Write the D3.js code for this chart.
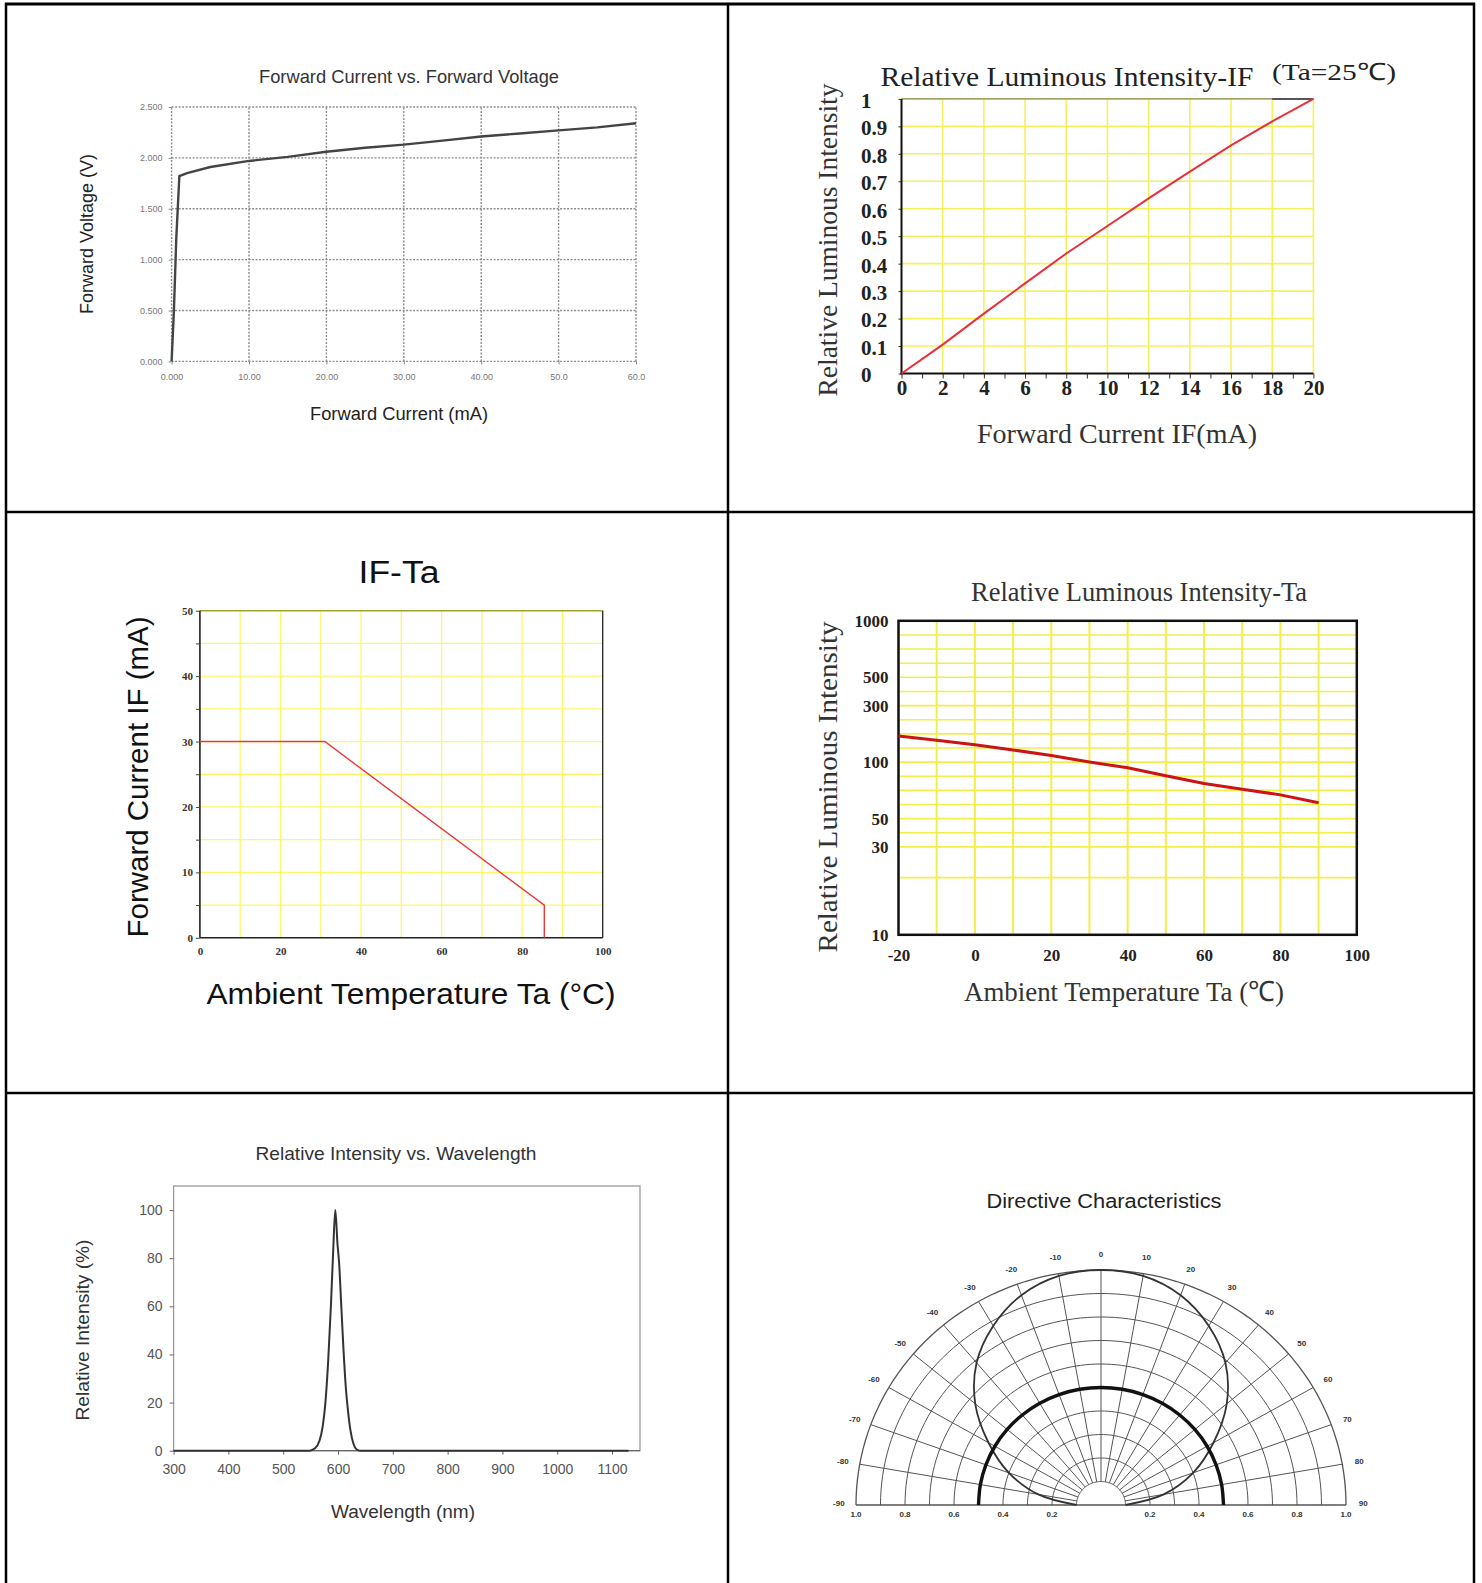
<!DOCTYPE html>
<html>
<head>
<meta charset="utf-8">
<script src="https://cdn.jsdelivr.net/npm/d3@7"></script>
<style>
  body { margin: 0; background: #fff; }
  svg { display: block; }
</style>
</head>
<body>
<svg id="sheet" width="1482" height="1583"></svg>
<script>
// Forward current vs forward voltage
const ivCurrent = [0, 0.3, 0.6, 1.0, 2, 5, 10, 15, 20, 25, 30, 35, 40, 45, 50, 55, 60];
const ivVoltage = [0, 0.5, 1.2, 1.82, 1.85, 1.91, 1.97, 2.01, 2.06, 2.1, 2.13, 2.17, 2.21, 2.24, 2.27, 2.3, 2.34];
const ivXVals = [0, 10, 20, 30, 40, 50, 60];
const ivXLabels = ["0.000", "10.00", "20.00", "30.00", "40.00", "50.0", "60.0"];
const ivYVals = [0, 0.5, 1, 1.5, 2, 2.5];
const ivYLabels = ["0.000", "0.500", "1.000", "1.500", "2.000", "2.500"];

// Relative luminous intensity vs IF
const lumCurrent = [0, 2, 4, 6, 8, 10, 12, 14, 16, 18, 20];
const lumRelative = [0, 0.105, 0.218, 0.328, 0.437, 0.537, 0.638, 0.735, 0.831, 0.918, 1.0];
const lumXVals = [0, 2, 4, 6, 8, 10, 12, 14, 16, 18, 20];
const lumYVals = [0, 0.1, 0.2, 0.3, 0.4, 0.5, 0.6, 0.7, 0.8, 0.9, 1];
const lumYLabels = ["0", "0.1", "0.2", "0.3", "0.4", "0.5", "0.6", "0.7", "0.8", "0.9", "1"];

// IF derating vs Ta
const derateTemp = [0, 31, 85.5, 85.5];
const derateCurrent = [30, 30, 5, 0];
const derateXVals = [0, 20, 40, 60, 80, 100];
const derateYVals = [0, 10, 20, 30, 40, 50];

// Relative luminous intensity vs Ta
const taTemp = [-20, -10, 0, 10, 20, 30, 40, 50, 60, 70, 80, 90];
const taRelative = [192, 177, 161, 143, 123, 100, 95, 88, 81, 76, 71, 64];
const taXVals = [-20, 0, 20, 40, 60, 80, 100];
const taYVals = [10, 30, 50, 100, 300, 500, 1000];
const taGrid = [1000, 875, 750, 625, 500, 400, 300, 250, 200, 150, 100, 87.5, 75, 62.5, 50, 40, 30, 23];

// Spectrum
const specWave = [300, 548, 558, 566, 572, 577, 582, 587, 591, 595, 599, 602, 606, 610, 614, 618, 623, 628, 634, 640, 1130];
const specRelative = [0, 0, 1, 4, 10, 20, 37, 60, 82, 100, 86, 78, 60, 42, 27, 17, 8, 3, 0.5, 0, 0];
const specXVals = [300, 400, 500, 600, 700, 800, 900, 1000, 1100];
const specYVals = [0, 20, 40, 60, 80, 100];

// Directive characteristics
const dirAngle = [-90, -80, -70, -60, -50, -40, -30, -20, -10, 0, 10, 20, 30, 40, 50, 60, 70, 80, 90];
const dirPattern = [0.1, 0.26, 0.4, 0.53, 0.67, 0.79, 0.88, 0.95, 0.99, 1.0, 0.99, 0.95, 0.88, 0.79, 0.67, 0.53, 0.4, 0.26, 0.1];
const dirHalf = [0.5, 0.5, 0.5, 0.5, 0.5, 0.5, 0.5, 0.5, 0.5, 0.5, 0.5, 0.5, 0.5, 0.5, 0.5, 0.5, 0.5, 0.5, 0.5];
const dirRadiusVals = [1.0, 0.8, 0.6, 0.4, 0.2];
const dirRadiusLabels = ["1.0", "0.8", "0.6", "0.4", "0.2"];

const NARROW = "'Liberation Sans Narrow','Arial Narrow','Liberation Sans',Arial,sans-serif";
const SERIF = "'Liberation Serif','Times New Roman',serif";
const SANS = "'Liberation Sans',Arial,sans-serif";

const svg = d3.select("#sheet");

// text helper, squeezes to the measured width when asked
function label(parent, str, x, y, o) {
    var t = parent.append("text")
        .attr("x", x)
        .attr("y", y)
        .attr("text-anchor", o.anchor || "middle")
        .style("font-family", o.family)
        .style("font-size", o.size + "px")
        .style("fill", o.fill || "#222")
        .text(str);
    if (o.weight) t.style("font-weight", o.weight);
    if (o.length) t.attr("textLength", o.length).attr("lengthAdjust", "spacingAndGlyphs");
    if (o.rotate) t.attr("transform", "rotate(" + o.rotate + "," + x + "," + y + ")");
    return t;
}

function styleAxis(a, font, size, fill, weight, tickColor) {
    a.select(".domain").remove();
    a.selectAll("line").attr("stroke", tickColor);
    a.selectAll("text")
        .style("font-family", font)
        .style("font-size", size + "px")
        .style("font-weight", weight)
        .attr("fill", fill);
}

// ---- table frame
var frame = svg.append("g").attr("class", "table-frame").attr("stroke", "#000");
frame.append("line").attr("x1", 5).attr("x2", 1475).attr("y1", 4).attr("y2", 4).attr("stroke-width", 3);
[512, 1093].forEach(function (yy) {
    frame.append("line").attr("x1", 5).attr("x2", 1475).attr("y1", yy).attr("y2", yy).attr("stroke-width", 2.5);
});
[6, 728, 1474].forEach(function (xx) {
    frame.append("line").attr("x1", xx).attr("x2", xx).attr("y1", 3).attr("y2", 1583).attr("stroke-width", 2.5);
});

// ---- Forward Current vs. Forward Voltage
(function () {
    var g = svg.append("g").attr("class", "iv-chart");
    var x = d3.scaleLinear().domain([0, 60]).range([171.6, 636]);
    var y = d3.scaleLinear().domain([0, 2.5]).range([361.4, 107]);

    var grid = g.append("g").attr("stroke", "#8c8c8c").attr("stroke-width", 1.4).attr("stroke-dasharray", "2,1.5");
    grid.selectAll("line.v").data(ivXVals).join("line").attr("class", "v")
        .attr("x1", d => x(d)).attr("x2", d => x(d)).attr("y1", y(0)).attr("y2", y(2.5));
    grid.selectAll("line.h").data(ivYVals).join("line").attr("class", "h")
        .attr("x1", x(0)).attr("x2", x(60)).attr("y1", d => y(d)).attr("y2", d => y(d));

    g.append("g").attr("transform", "translate(0," + y(0) + ")")
        .call(d3.axisBottom(x).tickValues(ivXVals).tickFormat((d, i) => ivXLabels[i]).tickSize(3).tickPadding(9))
        .call(a => styleAxis(a, NARROW, 9, "#777", "normal", "#888"));
    g.append("g").attr("transform", "translate(" + x(0) + ",0)")
        .call(d3.axisLeft(y).tickValues(ivYVals).tickFormat((d, i) => ivYLabels[i]).tickSize(3).tickPadding(6))
        .call(a => styleAxis(a, NARROW, 9, "#777", "normal", "#888"));

    g.append("path")
        .datum(d3.zip(ivCurrent, ivVoltage))
        .attr("fill", "none")
        .attr("stroke", "#444")
        .attr("stroke-width", 2.4)
        .attr("d", d3.line().x(d => x(d[0])).y(d => y(d[1])));

    label(g, "Forward Current vs. Forward Voltage", 409, 83, {family: NARROW, size: 19, length: 300, fill: "#333"});
    label(g, "Forward Voltage (V)", 93, 234, {family: NARROW, size: 18, length: 160, rotate: -90, fill: "#222"});
    label(g, "Forward Current (mA)", 399, 420, {family: NARROW, size: 18, length: 178, fill: "#222"});
})();

// ---- Relative Luminous Intensity-IF
(function () {
    var g = svg.append("g").attr("class", "lum-if-chart");
    var x = d3.scaleLinear().domain([0, 20]).range([901.5, 1313.4]);
    var y = d3.scaleLinear().domain([0, 1]).range([373.5, 98.9]);

    var grid = g.append("g").attr("stroke", "#f4f25c").attr("stroke-width", 1.6);
    grid.selectAll("line.v").data(lumXVals.slice(1)).join("line").attr("class", "v")
        .attr("x1", d => x(d)).attr("x2", d => x(d)).attr("y1", y(0)).attr("y2", y(1));
    grid.selectAll("line.h").data(lumYVals.slice(1)).join("line").attr("class", "h")
        .attr("x1", x(0)).attr("x2", x(20)).attr("y1", d => y(d)).attr("y2", d => y(d));

    g.append("line").attr("x1", x(0)).attr("x2", x(20)).attr("y1", y(1)).attr("y2", y(1))
        .attr("stroke", "#8a8a6a").attr("stroke-width", 1.2);
    g.append("line").attr("x1", x(18)).attr("x2", x(20)).attr("y1", y(1)).attr("y2", y(1))
        .attr("stroke", "#555").attr("stroke-width", 2);

    g.append("g").attr("transform", "translate(0," + y(0) + ")")
        .call(d3.axisBottom(x).tickValues(d3.range(0, 21, 1)).tickFormat(d => lumXVals.includes(d) ? d : "").tickSize(5).tickPadding(2))
        .call(a => styleAxis(a, SERIF, 21, "#222", "bold", "#333"));
    // labels in the sheet are left aligned next to the axis
    g.append("g").attr("transform", "translate(" + x(0) + ",0)")
        .call(d3.axisLeft(y).tickValues(lumYVals).tickFormat((d, i) => lumYLabels[i]).tickSize(3).tickPadding(10))
        .call(a => styleAxis(a, SERIF, 21, "#222", "bold", "#333"))
        .call(a => a.selectAll("text").attr("text-anchor", "start").attr("x", 861 - x(0)).attr("dy", "0.4em"));

    g.append("line").attr("x1", x(0)).attr("x2", x(0)).attr("y1", y(0)).attr("y2", y(1)).attr("stroke", "#111").attr("stroke-width", 2);
    g.append("line").attr("x1", x(0) - 1).attr("x2", x(20)).attr("y1", y(0)).attr("y2", y(0)).attr("stroke", "#111").attr("stroke-width", 2);

    g.append("path")
        .datum(d3.zip(lumCurrent, lumRelative))
        .attr("fill", "none")
        .attr("stroke", "#e8303a")
        .attr("stroke-width", 2)
        .attr("d", d3.line().x(d => x(d[0])).y(d => y(d[1])));

    label(g, "Relative Luminous Intensity-IF", 1067, 86, {family: SERIF, size: 27, length: 373, fill: "#222"});
    label(g, "(Ta=25\u2103)", 1334, 80, {family: SERIF, size: 24, length: 124, fill: "#222"});
    label(g, "Relative Luminous Intensity", 837, 240, {family: SERIF, size: 28, length: 313, rotate: -90, fill: "#333"});
    label(g, "Forward Current IF(mA)", 1117, 443, {family: SERIF, size: 28, length: 280, fill: "#333"});
})();

// ---- IF-Ta
(function () {
    var g = svg.append("g").attr("class", "if-ta-chart");
    var x = d3.scaleLinear().domain([0, 100]).range([199.9, 602.7]);
    var y = d3.scaleLinear().domain([0, 50]).range([937.8, 610.7]);

    var grid = g.append("g").attr("stroke", "#fbf96a").attr("stroke-width", 1.3);
    grid.selectAll("line.v").data(d3.range(10, 100, 10)).join("line").attr("class", "v")
        .attr("x1", d => x(d)).attr("x2", d => x(d)).attr("y1", y(0)).attr("y2", y(50));
    grid.selectAll("line.h").data(d3.range(5, 50, 5)).join("line").attr("class", "h")
        .attr("x1", x(0)).attr("x2", x(100)).attr("y1", d => y(d)).attr("y2", d => y(d));

    g.append("line").attr("x1", x(0)).attr("x2", x(100)).attr("y1", y(50)).attr("y2", y(50)).attr("stroke", "#a3a22e").attr("stroke-width", 1.6);
    g.append("line").attr("x1", x(100)).attr("x2", x(100)).attr("y1", y(50)).attr("y2", y(0)).attr("stroke", "#222").attr("stroke-width", 1.3);
    g.append("line").attr("x1", x(0)).attr("x2", x(0)).attr("y1", y(50)).attr("y2", y(0)).attr("stroke", "#222").attr("stroke-width", 1.6);
    g.append("line").attr("x1", x(0)).attr("x2", x(100)).attr("y1", y(0)).attr("y2", y(0)).attr("stroke", "#222").attr("stroke-width", 1.6);

    g.append("g").attr("transform", "translate(" + x(0) + ",0)")
        .call(d3.axisLeft(y).tickValues(d3.range(0, 51, 5)).tickFormat(d => derateYVals.includes(d) ? d : "").tickSize(4).tickPadding(3))
        .call(a => styleAxis(a, SERIF, 11, "#333", "bold", "#444"));
    g.append("g").attr("transform", "translate(0," + y(0) + ")")
        .call(d3.axisBottom(x).tickValues(derateXVals).tickSize(0).tickPadding(9))
        .call(a => styleAxis(a, SERIF, 11, "#333", "bold", "#444"));

    g.append("path")
        .datum(d3.zip(derateTemp, derateCurrent))
        .attr("fill", "none")
        .attr("stroke", "#e83a3a")
        .attr("stroke-width", 1.4)
        .attr("d", d3.line().x(d => x(d[0])).y(d => y(d[1])));

    label(g, "IF-Ta", 399, 583, {family: SANS, size: 31, length: 81, fill: "#111"});
    label(g, "Forward Current IF (mA)", 148, 777, {family: SANS, size: 30, length: 321, rotate: -90, fill: "#111"});
    label(g, "Ambient Temperature Ta (\u00b0C)", 411, 1004, {family: SANS, size: 29, length: 409, fill: "#111"});
})();

// ---- Relative Luminous Intensity-Ta
(function () {
    var g = svg.append("g").attr("class", "lum-ta-chart");
    var x = d3.scaleLinear().domain([-20, 100]).range([898.5, 1356.8]);
    // the printed axis is not a true log scale, labels are placed by hand
    var top = 620.8, h = 314;
    var y = d3.scaleLinear().domain(taYVals)
        .range([1, 0.72, 0.63, 0.45, 0.27, 0.18, 0].map(f => top + f * h));

    var grid = g.append("g").attr("stroke", "#f2ef4a");
    grid.selectAll("line.h").data(taGrid).join("line").attr("class", "h")
        .attr("stroke-width", 1.6)
        .attr("x1", x(-20)).attr("x2", x(100)).attr("y1", d => y(d)).attr("y2", d => y(d));
    grid.selectAll("line.v").data(d3.range(-10, 91, 10)).join("line").attr("class", "v")
        .attr("stroke-width", 2)
        .attr("x1", d => x(d)).attr("x2", d => x(d)).attr("y1", y(10)).attr("y2", y(1000));

    g.append("rect")
        .attr("x", x(-20)).attr("y", y(1000))
        .attr("width", x(100) - x(-20)).attr("height", y(10) - y(1000))
        .attr("fill", "none").attr("stroke", "#111").attr("stroke-width", 2.5);

    g.append("g").attr("transform", "translate(" + x(-20) + ",0)")
        .call(d3.axisLeft(y).tickValues(taYVals).tickFormat(d => String(d)).tickSize(0).tickPadding(10))
        .call(a => styleAxis(a, SERIF, 17, "#222", "bold", "#333"));
    g.append("g").attr("transform", "translate(0," + y(10) + ")")
        .call(d3.axisBottom(x).tickValues(taXVals).tickFormat(d => String(d)).tickSize(0).tickPadding(14))
        .call(a => styleAxis(a, SERIF, 17, "#222", "bold", "#333"));

    g.append("path")
        .datum(d3.zip(taTemp, taRelative))
        .attr("fill", "none")
        .attr("stroke", "#cc1414")
        .attr("stroke-width", 3)
        .attr("d", d3.line().x(d => x(d[0])).y(d => y(d[1])));

    label(g, "Relative Luminous Intensity-Ta", 1139, 601, {family: SERIF, size: 28, length: 336, fill: "#333"});
    label(g, "Relative Luminous Intensity", 837, 787, {family: SERIF, size: 28, length: 331, rotate: -90, fill: "#333"});
    label(g, "Ambient Temperature Ta (\u2103)", 1124, 1001, {family: SERIF, size: 28, length: 320, fill: "#333"});
})();

// ---- Relative Intensity vs. Wavelength
(function () {
    var g = svg.append("g").attr("class", "spectrum-chart");
    var x = d3.scaleLinear().domain([300, 1151]).range([173.6, 640]);
    var y = d3.scaleLinear().domain([0, 110]).range([1450.7, 1186]);

    g.append("rect")
        .attr("x", x(300)).attr("y", y(110))
        .attr("width", x(1151) - x(300)).attr("height", y(0) - y(110))
        .attr("fill", "none").attr("stroke", "#9a9a9a").attr("stroke-width", 1.3);

    g.append("g").attr("transform", "translate(" + x(300) + ",0)")
        .call(d3.axisLeft(y).tickValues(specYVals).tickFormat(d => String(d)).tickSize(4).tickPadding(7))
        .call(a => styleAxis(a, NARROW, 14, "#555", "normal", "#666"));
    g.append("g").attr("transform", "translate(0," + y(0) + ")")
        .call(d3.axisBottom(x).tickValues(specXVals).tickFormat(d => String(d)).tickSize(4).tickPadding(9))
        .call(a => styleAxis(a, NARROW, 14, "#555", "normal", "#666"));
    g.append("line").attr("x1", x(300)).attr("x2", x(1151)).attr("y1", y(0)).attr("y2", y(0))
        .attr("stroke", "#666").attr("stroke-width", 1.3);

    g.append("path")
        .datum(d3.zip(specWave, specRelative))
        .attr("fill", "none")
        .attr("stroke", "#333")
        .attr("stroke-width", 2)
        .attr("d", d3.line().curve(d3.curveMonotoneX).x(d => x(d[0])).y(d => y(d[1])));

    label(g, "Relative Intensity vs. Wavelength", 396, 1160, {family: NARROW, size: 19, length: 281, fill: "#333"});
    label(g, "Relative Intensity (%)", 89, 1330, {family: NARROW, size: 18, length: 181, rotate: -90, fill: "#333"});
    label(g, "Wavelength (nm)", 403, 1518, {family: NARROW, size: 18, length: 144, fill: "#333"});
})();

// ---- Directive Characteristics
(function () {
    var g = svg.append("g").attr("class", "directive-chart");
    var px = d3.scaleLinear().domain([-1, 1]).range([1101 - 245, 1101 + 245]);
    var py = d3.scaleLinear().domain([0, 1]).range([1505, 1270]);
    var rad = Math.PI / 180;
    function pt(deg, r) { return [px(r * Math.sin(deg * rad)), py(r * Math.cos(deg * rad))]; }

    var grid = g.append("g").attr("fill", "none").attr("stroke", "#555").attr("stroke-width", 1);
    var arc = d3.line();
    d3.range(1, 11).forEach(function (k) {
        var r = k / 10;
        grid.append("path").attr("d", arc(d3.range(-90, 90.5, 2).map(a => pt(a, r))))
            .attr("stroke-width", k === 10 ? 1.3 : 1);
    });
    d3.range(-80, 81, 10).forEach(function (a) {
        grid.append("path").attr("d", arc([pt(a, 0.1), pt(a, 1)]));
    });
    grid.append("path").attr("d", arc([pt(-90, 1), pt(90, 1)])).attr("stroke-width", 1.3);

    var curve = d3.line().curve(d3.curveCatmullRom);
    g.append("path")
        .attr("d", curve(dirAngle.map((a, i) => pt(a, dirPattern[i]))))
        .attr("fill", "none").attr("stroke", "#333").attr("stroke-width", 1.8);
    g.append("path")
        .attr("d", curve(dirAngle.map((a, i) => pt(a, dirHalf[i]))))
        .attr("fill", "none").attr("stroke", "#111").attr("stroke-width", 3.4);

    var lab = g.append("g");
    dirAngle.forEach(function (a) {
        var p = pt(a, 1.07);
        var yy = Math.abs(a) === 90 ? p[1] - 2 : p[1];
        label(lab, String(a), p[0], yy + 3, {family: SANS, size: 8, weight: "bold", fill: "#333"});
    });
    dirRadiusVals.forEach(function (r, i) {
        label(lab, dirRadiusLabels[i], px(-r), py(0) + 12, {family: SANS, size: 8, weight: "bold", fill: "#333"});
        label(lab, dirRadiusLabels[i], px(r), py(0) + 12, {family: SANS, size: 8, weight: "bold", fill: "#333"});
    });

    label(g, "Directive Characteristics", 1104, 1208, {family: NARROW, size: 20, length: 235, fill: "#222"});
})();
</script>
</body>
</html>
